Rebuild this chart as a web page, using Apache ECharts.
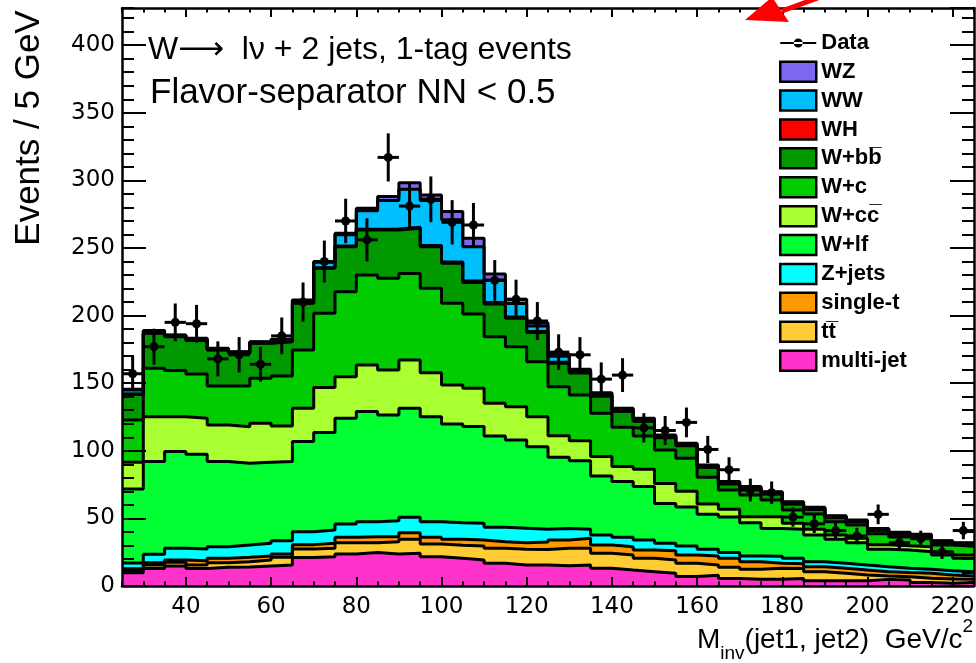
<!DOCTYPE html>
<html><head><meta charset="utf-8">
<script src="https://cdn.jsdelivr.net/npm/echarts@6/dist/echarts.min.js"></script>
<style>html,body{margin:0;padding:0;background:#fff}#c{width:976px;height:663px}</style>
</head><body><div id="c"></div>
<script>
// ---- data ----
const binEdges = [25,30,35,40,45,50,55,60,65,70,75,80,85,90,95,100,105,110,115,120,125,130,135,140,145,150,155,160,165,170,175,180,185,190,195,200,205,210,215,220];
const xRange = [25, 225];
const binWidth = 5;
const xMajorTicks = [40,60,80,100,120,140,160,180,200,220];
const yMax = 427.5;

const dataCounts = [157,177,195,194,168,171,164,185,210,240,270,256,317,281,286,269,267,226,212,196,173,171,153,156,117,115,121,101,86,71,69,51,46,41,37,53,32,35,25,41];

const multijet = [9.8,13,14.8,13,13.8,14,14.8,15.5,21,21.7,23.7,24.7,23.7,24.2,21.7,20.5,19.2,16.8,15.5,15.5,15,15.5,13.1,11.8,10.6,9.4,7,8,5.5,5,5,5.5,3.9,3.9,3.9,4.9,4.4,2.5,2,2.5];
const ttbar    = [1.5,2.5,2.7,2.5,3.4,4,4.4,5.7,6.4,6.2,8.3,7.3,9.1,10.3,9.3,9.6,10.4,11.1,11.6,11.5,13,12.4,11.1,11.1,9.9,9.8,9.8,7.5,8.3,7.3,8.1,7.5,6.7,5.5,4.2,2.5,2.5,3.2,3.2,2.4];
const singlet  = [1.5,1.7,1.7,3.2,3.3,3.2,3,2.5,3.2,3.7,4,4.5,3.7,4.9,5,4.4,4.4,4.9,4.9,5.5,6,7.4,6.1,6.2,6.1,6.9,6.1,6.7,6.7,5.7,3.7,3.5,3.7,3.7,3.7,3.2,3,3.7,2.9,2.5];
const zjets    = [4.2,6.3,8.8,8.7,8.6,9.1,9.4,9.8,9.6,9.8,9.9,11.1,11.8,11.4,11.6,12.3,12.4,10.6,10.7,9.5,8.5,6.6,7.4,6.9,7.4,5.5,6.6,4.9,4.2,4.2,5.2,4,3.7,3.7,3.7,3.7,3.2,2.9,3.2,3.2];
const wlf      = [54.7,68.5,71.4,70,62.9,60.4,59.9,58.5,66.6,72.1,78.1,81.4,78.2,80.6,77.6,73,71.5,67.5,65.3,61,52.7,50.8,43.7,41.2,39.5,29.5,29,25.9,26.3,24.6,20.6,21.4,19.7,17.7,16.5,12.8,13.5,13.1,11.6,9.9];
const wcc      = [19.8,33.2,25.8,26.6,27.1,27.1,28.8,26.3,24.6,33.3,30.8,34.5,33.3,35.8,32.6,28.9,28.3,24.2,24.6,22.2,16,14.8,14.3,11.1,12.8,14.8,11.5,7.7,5.7,4.5,8.7,4.5,4.2,3.2,3.3,3.5,3.2,3.7,2.5,2.4];
const wc       = [31.3,35.8,34.1,32.8,28.8,30.1,33.3,37,43.2,54.9,62.9,66.5,67.8,64,62.4,60.4,55,49.3,44.4,40.7,36.2,33.8,32,29.1,24.6,24.7,24.4,19.7,14.3,16,12.3,9.8,11.4,9.9,9.8,8,6.5,6,5,6.5];
const wbb      = [19,25.9,25.1,24.7,26.7,24.2,25.9,25.4,34.5,33.3,33.3,33.3,35.7,33.4,30.8,29.6,23.3,24.2,21,21.6,17.4,16.2,12.6,11.6,10.9,9.1,9.3,7.4,4.5,4.5,4.5,4.5,3.2,2.9,2.4,2.5,2,1.7,1.8,1.3];
const wh       = [0.2,0.2,0.2,0.2,0.2,0.2,0.2,0.3,0.3,0.4,0.5,0.6,0.7,0.8,0.9,1,1,1,0.9,0.8,0.7,0.6,0.5,0.4,0.4,0.3,0.3,0.3,0.3,0.2,0.2,0.2,0.2,0.2,0.2,0.2,0.2,0.2,0.2,0.2];
const ww       = [3,1.3,0.8,1.2,0.7,0.7,0.7,1.2,1.7,4.1,8.2,13.7,21.1,28,33.2,31.2,25.5,16.7,10,4,4.5,1.5,1.5,1.4,1.2,1.2,1,1,1,1.1,1.1,1.1,1.1,0.9,0.8,0.9,0.8,0.8,0.8,0.8];
const wz       = [0.5,0.5,0.3,0.3,0.3,0.3,0.3,0.3,0.4,0.5,1.2,1.7,2.9,4.9,4.1,6,6.2,4.5,3.1,2.4,1.5,0.7,0.7,0.6,0.6,0.5,0.5,0.4,0.4,0.4,0.4,0.4,0.4,0.4,0.3,0.4,0.4,0.4,0.3,0.3];

// stack order: bottom -> top
const layerNames  = ['multi-jet','tt\u0305','single-t','Z+jets','W+lf','W+cc\u0305','W+c','W+bb\u0305','WH','WW','WZ'];
const layerValues = [multijet, ttbar, singlet, zjets, wlf, wcc, wc, wbb, wh, ww, wz];
const layerColors = ['#FF33CC','#FFCC33','#FF9900','#00FFFF','#00FF33','#AAFF33','#00CC00','#009900','#FF0000','#00BFFF','#7B68EE'];

// ---- build (cumulative stack table for the library) ----
const cumulative = [];
let running = binEdges.map(() => 0);
layerValues.forEach(vals => { running = running.map((v, i) => v + vals[i]); cumulative.push(running.slice()); });

function stepData(vals) {
  const d = binEdges.map((x, i) => [x, +vals[i].toFixed(3)]);
  d.push([xRange[1], +vals[vals.length - 1].toFixed(3)]);
  return d;
}
const series = [];
// fills: paint the top of the stack first, lower layers over it
for (let k = layerNames.length - 1; k >= 0; k--) {
  series.push({
    type: 'line', name: layerNames[k], step: 'end', data: stepData(cumulative[k]),
    symbol: 'none', silent: true, z: 2,
    itemStyle: { color: layerColors[k] },
    lineStyle: { width: 0, opacity: 0 },
    areaStyle: { color: layerColors[k], opacity: 1 }
  });
}
// outlines
layerNames.forEach((n, k) => {
  series.push({
    type: 'line', name: n + ' edge', step: 'end', data: stepData(cumulative[k]),
    symbol: 'none', silent: true, z: 3,
    lineStyle: { color: '#000', width: 3 }
  });
});
series.push({
  type: 'custom', name: 'Data', z: 5,
  itemStyle: { color: '#000' },
  data: binEdges.map((x, i) => [x + binWidth / 2, dataCounts[i], Math.sqrt(dataCounts[i])]),
  encode: { x: 0, y: 1 },
  renderItem: function (params, api) {
    const x = api.value(0), y = api.value(1), e = api.value(2);
    const c = api.coord([x, y]);
    const t = api.coord([x, y + e]);
    const b = api.coord([x, Math.max(0, y - e)]);
    const l = api.coord([x - binWidth / 2, y]);
    const r = api.coord([x + binWidth / 2, y]);
    return { type: 'group', children: [
      { type: 'line', shape: { x1: c[0], y1: t[1], x2: c[0], y2: b[1] }, style: { stroke: '#000', lineWidth: 3 } },
      { type: 'line', shape: { x1: l[0], y1: c[1], x2: r[0], y2: c[1] }, style: { stroke: '#000', lineWidth: 3 } },
      { type: 'circle', shape: { cx: c[0], cy: c[1], r: 4.5 }, style: { fill: '#000' } }
    ]};
  }
});

const legendOrder = ['WZ','WW','WH','W+bb\u0305','W+c','W+cc\u0305','W+lf','Z+jets','single-t','tt\u0305','multi-jet'];
const legendData = [{ name: 'Data', icon: 'path://M0,9h36v2h-36z M18,5.5a4.5,4.5 0 1,0 0.01,0z M0,0h0.1v0.1h-0.1z M35.9,19.9h0.1v0.1h-0.1z', itemStyle: { color: '#000', borderWidth: 0 } }]
  .concat(legendOrder.map(n => ({ name: n, icon: 'rect', itemStyle: { color: layerColors[layerNames.indexOf(n)], borderColor: '#000', borderWidth: 2.5 } })));

const axisLineStyle = { color: '#000', width: 2.5 };
const tickStyle = { color: '#000', width: 2 };
const tickFont = { color: '#000', fontFamily: 'DejaVu Sans', fontSize: 23 };

const option = {
  animation: false,
  backgroundColor: '#fff',
  grid: { left: 122, right: 2, top: 8, bottom: 77, containLabel: false, outerBoundsMode: 'none' },
  xAxis: [
    { type: 'value', position: 'bottom', min: xRange[0], max: xRange[1], splitNumber: 10, z: 10,
      axisLine: { show: true, onZero: false, lineStyle: axisLineStyle },
      axisTick: { show: true, inside: true, length: 9, lineStyle: tickStyle, customValues: xMajorTicks },
      axisLabel: Object.assign({ customValues: xMajorTicks, margin: 10 }, tickFont),
      splitLine: { show: false } },
    { type: 'value', position: 'bottom', min: xRange[0], max: xRange[1], interval: 5, z: 10,
      axisLine: { show: false, onZero: false }, axisTick: { show: true, inside: true, length: 4.5, lineStyle: tickStyle },
      axisLabel: { show: false }, splitLine: { show: false } },
    { type: 'value', position: 'top', min: xRange[0], max: xRange[1], splitNumber: 10, z: 10,
      axisLine: { show: true, onZero: false, lineStyle: axisLineStyle },
      axisTick: { show: true, inside: true, length: 9, lineStyle: tickStyle, customValues: xMajorTicks },
      axisLabel: { show: false }, splitLine: { show: false } },
    { type: 'value', position: 'top', min: xRange[0], max: xRange[1], interval: 5, z: 10,
      axisLine: { show: false, onZero: false }, axisTick: { show: true, inside: true, length: 4.5, lineStyle: tickStyle },
      axisLabel: { show: false }, splitLine: { show: false } }
  ],
  yAxis: [
    { type: 'value', position: 'left', min: 0, max: yMax, interval: 50, z: 10,
      axisLine: { show: true, onZero: false, lineStyle: axisLineStyle },
      axisTick: { show: true, inside: true, length: 24, lineStyle: tickStyle },
      axisLabel: Object.assign({ margin: 7, showMaxLabel: false }, tickFont),
      splitLine: { show: false } },
    { type: 'value', position: 'left', min: 0, max: yMax, interval: 10, z: 10,
      axisLine: { show: false, onZero: false }, axisTick: { show: true, inside: true, length: 12, lineStyle: tickStyle },
      axisLabel: { show: false }, splitLine: { show: false } },
    { type: 'value', position: 'right', min: 0, max: yMax, interval: 50, z: 10,
      axisLine: { show: true, onZero: false, lineStyle: axisLineStyle },
      axisTick: { show: true, inside: true, length: 24, lineStyle: tickStyle },
      axisLabel: { show: false }, splitLine: { show: false } },
    { type: 'value', position: 'right', min: 0, max: yMax, interval: 10, z: 10,
      axisLine: { show: false, onZero: false }, axisTick: { show: true, inside: true, length: 12, lineStyle: tickStyle },
      axisLabel: { show: false }, splitLine: { show: false } }
  ],
  legend: {
    data: legendData, orient: 'vertical', left: 779, top: 32, padding: 0,
    itemWidth: 36, itemHeight: 20, itemGap: 6.4, selectedMode: false,
    textStyle: { fontFamily: 'Liberation Sans', fontWeight: 'bold', fontSize: 22, lineHeight: 20, color: '#000' }
  },
  title: [
    { text: 'W\u27F6  l\u03bd + 2 jets, 1-tag events', left: 148, top: 34, padding: 0,
      textStyle: { fontFamily: 'Liberation Sans, DejaVu Sans', fontWeight: 'normal', fontSize: 32, color: '#000' } },
    { text: 'Flavor-separator NN < 0.5', left: 150, top: 76, padding: 0,
      textStyle: { fontFamily: 'Liberation Sans', fontWeight: 'normal', fontSize: 35, color: '#000' } },
    { text: '{m|M}{s|inv}{m|(jet1, jet2)  GeV/c}{p|2}', right: 3, top: 617, padding: 0,
      textStyle: { fontWeight: 'normal', rich: {
        m: { fontFamily: 'Liberation Sans', fontWeight: 'normal', fontSize: 28, color: '#000', lineHeight: 46 },
        s: { fontFamily: 'Liberation Sans', fontWeight: 'normal', fontSize: 19, color: '#000', verticalAlign: 'bottom', lineHeight: 46 },
        p: { fontFamily: 'Liberation Sans', fontWeight: 'normal', fontSize: 19, color: '#000', verticalAlign: 'top', lineHeight: 46 }
      } } }
  ],
  graphic: [
    { type: 'text', x: 29, y: 128, rotation: Math.PI / 2, z: 20,
      style: { text: 'Events / 5 GeV', fontFamily: 'Liberation Sans', fontSize: 35, fill: '#000', align: 'center', verticalAlign: 'middle' } },
    { type: 'line', z: 20, shape: { x1: 782, y1: 11, x2: 845, y2: -12 }, style: { stroke: '#FF0000', lineWidth: 5 } },
    { type: 'polygon', z: 20, shape: { points: [[745, 20], [772, -3], [789, 22]] }, style: { fill: '#FF0000' } }
  ],
  series: series
};
const chart = echarts.init(document.getElementById('c'), null, { renderer: 'canvas' });
chart.setOption(option);
</script>
</body></html>
